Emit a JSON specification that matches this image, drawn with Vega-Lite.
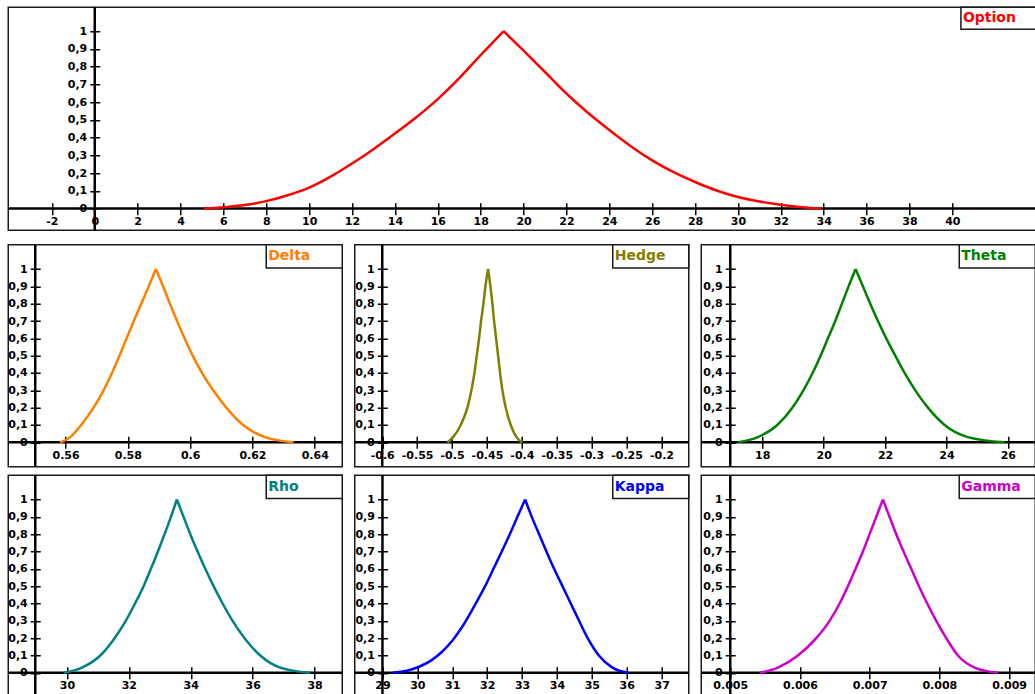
{
"$schema": "https://vega.github.io/schema/vega-lite/v6.json",
"padding": {"left": 6.25, "top": 5.25, "right": 0, "bottom": 0},
"background": "white",
"spacing": 10.5,
"config": {
  "view": {"stroke": "#1a1a1a", "strokeWidth": 1.5},
  "axis": {"labelFont": "DejaVu Sans", "labelFontSize": 11, "labelFontWeight": "bold", "labelColor": "#000", "tickColor": "#000", "tickWidth": 1.5, "grid": false, "domain": false, "labelOverlap": false, "labelFlush": false},
  "line": {"strokeWidth": 2.5, "interpolate": "monotone"},
  "rule": {"color": "#000", "strokeWidth": 2.5, "clip": true},
  "rect": {"fill": "white", "stroke": "#1a1a1a", "strokeWidth": 1.5},
  "text": {"align": "left", "baseline": "middle", "dx": 2, "font": "DejaVu Sans", "fontWeight": "bold", "fontSize": 14}
},
"datasets": {
  "option": [{"x":5.1,"y":0,"s":"L"},{"x":6,"y":0.008,"s":"L"},{"x":7,"y":0.02,"s":"L"},{"x":8,"y":0.042,"s":"L"},{"x":9,"y":0.075,"s":"L"},{"x":10,"y":0.118,"s":"L"},{"x":11,"y":0.18,"s":"L"},{"x":12,"y":0.254,"s":"L"},{"x":13,"y":0.335,"s":"L"},{"x":14,"y":0.423,"s":"L"},{"x":15,"y":0.515,"s":"L"},{"x":16,"y":0.617,"s":"L"},{"x":17,"y":0.735,"s":"L"},{"x":18,"y":0.865,"s":"L"},{"x":19.07,"y":1,"s":"L"},
             {"x":19.07,"y":1,"s":"R"},{"x":20,"y":0.89,"s":"R"},{"x":21,"y":0.77,"s":"R"},{"x":22,"y":0.649,"s":"R"},{"x":23,"y":0.54,"s":"R"},{"x":24,"y":0.443,"s":"R"},{"x":25,"y":0.352,"s":"R"},{"x":26,"y":0.272,"s":"R"},{"x":27,"y":0.205,"s":"R"},{"x":28,"y":0.15,"s":"R"},{"x":29,"y":0.102,"s":"R"},{"x":30,"y":0.065,"s":"R"},{"x":31,"y":0.04,"s":"R"},{"x":32,"y":0.022,"s":"R"},{"x":33,"y":0.008,"s":"R"},{"x":33.9,"y":0,"s":"R"}],
  "delta": [{"x":0.5583,"y":0,"s":"L"},{"x":0.5615,"y":0.03,"s":"L"},{"x":0.565,"y":0.1,"s":"L"},{"x":0.569,"y":0.2,"s":"L"},{"x":0.5722,"y":0.3,"s":"L"},{"x":0.5749,"y":0.4,"s":"L"},{"x":0.5773,"y":0.5,"s":"L"},{"x":0.5796,"y":0.6,"s":"L"},{"x":0.5819,"y":0.7,"s":"L"},{"x":0.5843,"y":0.8,"s":"L"},{"x":0.5867,"y":0.9,"s":"L"},{"x":0.589,"y":1,"s":"L"},
            {"x":0.589,"y":1,"s":"R"},{"x":0.5913,"y":0.9,"s":"R"},{"x":0.5935,"y":0.8,"s":"R"},{"x":0.5958,"y":0.7,"s":"R"},{"x":0.5982,"y":0.6,"s":"R"},{"x":0.6008,"y":0.5,"s":"R"},{"x":0.6038,"y":0.4,"s":"R"},{"x":0.6074,"y":0.3,"s":"R"},{"x":0.6116,"y":0.2,"s":"R"},{"x":0.617,"y":0.1,"s":"R"},{"x":0.624,"y":0.03,"s":"R"},{"x":0.6332,"y":0,"s":"R"}],
  "hedge": [{"x":-0.50664,"y":0,"s":"L"},{"x":-0.49853,"y":0.03,"s":"L"},{"x":-0.48754,"y":0.1,"s":"L"},{"x":-0.47798,"y":0.2,"s":"L"},{"x":-0.47225,"y":0.3,"s":"L"},{"x":-0.46795,"y":0.4,"s":"L"},{"x":-0.46461,"y":0.5,"s":"L"},{"x":-0.46127,"y":0.6,"s":"L"},{"x":-0.45841,"y":0.7,"s":"L"},{"x":-0.45506,"y":0.8,"s":"L"},{"x":-0.4522,"y":0.9,"s":"L"},{"x":-0.44838,"y":1,"s":"L"},
            {"x":-0.44838,"y":1,"s":"R"},{"x":-0.44503,"y":0.9,"s":"R"},{"x":-0.44217,"y":0.8,"s":"R"},{"x":-0.43978,"y":0.7,"s":"R"},{"x":-0.43692,"y":0.6,"s":"R"},{"x":-0.43405,"y":0.5,"s":"R"},{"x":-0.43119,"y":0.4,"s":"R"},{"x":-0.42784,"y":0.3,"s":"R"},{"x":-0.42307,"y":0.2,"s":"R"},{"x":-0.4159,"y":0.1,"s":"R"},{"x":-0.40779,"y":0.03,"s":"R"},{"x":-0.39919,"y":0,"s":"R"}],
  "theta": [{"x":17.207,"y":0,"s":"L"},{"x":17.859,"y":0.03,"s":"L"},{"x":18.489,"y":0.1,"s":"L"},{"x":18.98,"y":0.2,"s":"L"},{"x":19.34,"y":0.3,"s":"L"},{"x":19.64,"y":0.4,"s":"L"},{"x":19.9,"y":0.5,"s":"L"},{"x":20.139,"y":0.6,"s":"L"},{"x":20.378,"y":0.7,"s":"L"},{"x":20.595,"y":0.8,"s":"L"},{"x":20.812,"y":0.9,"s":"L"},{"x":21.04,"y":1,"s":"L"},
            {"x":21.04,"y":1,"s":"R"},{"x":21.279,"y":0.9,"s":"R"},{"x":21.518,"y":0.8,"s":"R"},{"x":21.768,"y":0.7,"s":"R"},{"x":22.039,"y":0.6,"s":"R"},{"x":22.332,"y":0.5,"s":"R"},{"x":22.636,"y":0.4,"s":"R"},{"x":22.984,"y":0.3,"s":"R"},{"x":23.396,"y":0.2,"s":"R"},{"x":23.939,"y":0.1,"s":"R"},{"x":24.699,"y":0.03,"s":"R"},{"x":25.894,"y":0,"s":"R"}],
  "rho": [{"x":29.891,"y":0,"s":"L"},{"x":30.484,"y":0.03,"s":"L"},{"x":31.076,"y":0.1,"s":"L"},{"x":31.54,"y":0.2,"s":"L"},{"x":31.9,"y":0.3,"s":"L"},{"x":32.2,"y":0.4,"s":"L"},{"x":32.476,"y":0.5,"s":"L"},{"x":32.713,"y":0.6,"s":"L"},{"x":32.939,"y":0.7,"s":"L"},{"x":33.154,"y":0.8,"s":"L"},{"x":33.359,"y":0.9,"s":"L"},{"x":33.553,"y":1,"s":"L"},
          {"x":33.553,"y":1,"s":"R"},{"x":33.768,"y":0.9,"s":"R"},{"x":33.984,"y":0.8,"s":"R"},{"x":34.221,"y":0.7,"s":"R"},{"x":34.469,"y":0.6,"s":"R"},{"x":34.738,"y":0.5,"s":"R"},{"x":35.029,"y":0.4,"s":"R"},{"x":35.352,"y":0.3,"s":"R"},{"x":35.739,"y":0.2,"s":"R"},{"x":36.246,"y":0.1,"s":"R"},{"x":36.892,"y":0.03,"s":"R"},{"x":37.861,"y":0,"s":"R"}],
  "kappa": [{"x":29.286,"y":0,"s":"L"},{"x":29.7,"y":0.012,"s":"L"},{"x":30.05,"y":0.035,"s":"L"},{"x":30.4,"y":0.072,"s":"L"},{"x":30.7,"y":0.12,"s":"L"},{"x":31.0,"y":0.185,"s":"L"},{"x":31.3,"y":0.27,"s":"L"},{"x":31.673,"y":0.4,"s":"L"},{"x":31.941,"y":0.5,"s":"L"},{"x":32.18,"y":0.6,"s":"L"},{"x":32.418,"y":0.7,"s":"L"},{"x":32.648,"y":0.8,"s":"L"},{"x":32.867,"y":0.9,"s":"L"},{"x":33.087,"y":1,"s":"L"},
            {"x":33.087,"y":1,"s":"R"},{"x":33.278,"y":0.9,"s":"R"},{"x":33.488,"y":0.8,"s":"R"},{"x":33.698,"y":0.7,"s":"R"},{"x":33.918,"y":0.6,"s":"R"},{"x":34.157,"y":0.5,"s":"R"},{"x":34.395,"y":0.4,"s":"R"},{"x":34.634,"y":0.3,"s":"R"},{"x":34.88,"y":0.2,"s":"R"},{"x":35.2,"y":0.1,"s":"R"},{"x":35.589,"y":0.03,"s":"R"},{"x":36.048,"y":0,"s":"R"}],
  "gamma": [{"x":0.0054208,"y":0,"s":"L"},{"x":0.0056839,"y":0.03,"s":"L"},{"x":0.0059709,"y":0.1,"s":"L"},{"x":0.0062339,"y":0.2,"s":"L"},{"x":0.0064251,"y":0.3,"s":"L"},{"x":0.0065686,"y":0.4,"s":"L"},{"x":0.0066882,"y":0.5,"s":"L"},{"x":0.0067982,"y":0.6,"s":"L"},{"x":0.0069034,"y":0.7,"s":"L"},{"x":0.006999,"y":0.8,"s":"L"},{"x":0.0070947,"y":0.9,"s":"L"},{"x":0.0071904,"y":1,"s":"L"},
            {"x":0.0071904,"y":1,"s":"R"},{"x":0.007286,"y":0.9,"s":"R"},{"x":0.0073816,"y":0.8,"s":"R"},{"x":0.0074868,"y":0.7,"s":"R"},{"x":0.0075968,"y":0.6,"s":"R"},{"x":0.0077069,"y":0.5,"s":"R"},{"x":0.0078264,"y":0.4,"s":"R"},{"x":0.0079555,"y":0.3,"s":"R"},{"x":0.008099,"y":0.2,"s":"R"},{"x":0.0082664,"y":0.1,"s":"R"},{"x":0.0085055,"y":0.03,"s":"R"},{"x":0.0088403,"y":0,"s":"R"}]
},
"vconcat": [
{
  "width": 1030, "height": 223,
  "layer": [
    {"data": {"values": [{}]}, "mark": "rect",
     "encoding": {
       "x": {"datum": 40.4, "type": "quantitative", "scale": {"domain": [-4.0345, 44.007], "zero": false, "nice": false}, "axis": {"title": null, "orient": "bottom", "offset": -27.6, "tickSize": 12, "labelPadding": 1, "values": [-2,0,2,4,6,8,10,12,14,16,18,20,22,24,26,28,30,32,34,36,38,40], "labelExpr": "'' + datum.value"}},
       "x2": {"datum": 44.007},
       "y": {"datum": 1.135, "type": "quantitative", "scale": {"domain": [-0.122, 1.135], "zero": false, "nice": false}, "axis": {"title": null, "orient": "left", "offset": -91.5, "tickSize": 10, "labelPadding": 3, "values": [0,0.1,0.2,0.3,0.4,0.5,0.6,0.7,0.8,0.9,1], "labelExpr": "replace('' + datum.value, '.', ',')"}},
       "y2": {"datum": 1.011}}},
    {"data": {"values": [{}]}, "mark": {"type": "text", "text": "Option", "color": "#ff0000"},
     "encoding": {
       "x": {"datum": 40.4, "type": "quantitative", "scale": {"domain": [-4.0345, 44.007], "zero": false, "nice": false}, "axis": {"title": null, "orient": "bottom", "offset": -27.6, "tickSize": 12, "labelPadding": 1, "values": [-2,0,2,4,6,8,10,12,14,16,18,20,22,24,26,28,30,32,34,36,38,40], "labelExpr": "'' + datum.value"}},
       "y": {"datum": 1.073, "type": "quantitative", "scale": {"domain": [-0.122, 1.135], "zero": false, "nice": false}, "axis": {"title": null, "orient": "left", "offset": -91.5, "tickSize": 10, "labelPadding": 3, "values": [0,0.1,0.2,0.3,0.4,0.5,0.6,0.7,0.8,0.9,1], "labelExpr": "replace('' + datum.value, '.', ',')"}}}},
    {"data": {"values": [{}]}, "mark": "rule",
     "encoding": {
       "y": {"datum": 0, "type": "quantitative", "scale": {"domain": [-0.122, 1.135], "zero": false, "nice": false}, "axis": {"title": null, "orient": "left", "offset": -91.5, "tickSize": 10, "labelPadding": 3, "values": [0,0.1,0.2,0.3,0.4,0.5,0.6,0.7,0.8,0.9,1], "labelExpr": "replace('' + datum.value, '.', ',')"}}}},
    {"data": {"values": [{}]}, "mark": "rule",
     "encoding": {
       "x": {"datum": 0, "type": "quantitative", "scale": {"domain": [-4.0345, 44.007], "zero": false, "nice": false}, "axis": {"title": null, "orient": "bottom", "offset": -27.6, "tickSize": 12, "labelPadding": 1, "values": [-2,0,2,4,6,8,10,12,14,16,18,20,22,24,26,28,30,32,34,36,38,40], "labelExpr": "'' + datum.value"}}}},
    {"data": {"name": "option"}, "mark": {"type": "line", "color": "#ff0000"},
     "encoding": {
       "detail": {"field": "s"},
       "x": {"field": "x", "type": "quantitative", "scale": {"domain": [-4.0345, 44.007], "zero": false, "nice": false}, "axis": {"title": null, "orient": "bottom", "offset": -27.6, "tickSize": 12, "labelPadding": 1, "values": [-2,0,2,4,6,8,10,12,14,16,18,20,22,24,26,28,30,32,34,36,38,40], "labelExpr": "'' + datum.value"}},
       "y": {"field": "y", "type": "quantitative", "scale": {"domain": [-0.122, 1.135], "zero": false, "nice": false}, "axis": {"title": null, "orient": "left", "offset": -91.5, "tickSize": 10, "labelPadding": 3, "values": [0,0.1,0.2,0.3,0.4,0.5,0.6,0.7,0.8,0.9,1], "labelExpr": "replace('' + datum.value, '.', ',')"}}}}
  ]
},
{
  "vconcat": [
  {
    "hconcat": [
    {
      "width": 334, "height": 222,
      "layer": [
        {"data": {"values": [{}]}, "mark": "rect",
         "encoding": {
           "x": {"datum": 0.62443, "type": "quantitative", "scale": {"domain": [0.54161, 0.64883], "zero": false, "nice": false}, "axis": {"title": null, "orient": "bottom", "offset": -30.4, "tickSize": 12, "labelPadding": 1, "values": [0.56,0.58,0.6,0.62,0.64], "labelExpr": "'' + datum.value"}},
           "x2": {"datum": 0.64883},
           "y": {"datum": 1.14, "type": "quantitative", "scale": {"domain": [-0.141, 1.14], "zero": false, "nice": false}, "axis": {"title": null, "orient": "left", "offset": -32, "tickSize": 10, "labelPadding": 3, "values": [0,0.1,0.2,0.3,0.4,0.5,0.6,0.7,0.8,0.9,1], "labelExpr": "replace('' + datum.value, '.', ',')"}},
           "y2": {"datum": 1.0056}}},
        {"data": {"values": [{}]}, "mark": {"type": "text", "text": "Delta", "color": "#ff8000"},
         "encoding": {
           "x": {"datum": 0.62443, "type": "quantitative", "scale": {"domain": [0.54161, 0.64883], "zero": false, "nice": false}, "axis": {"title": null, "orient": "bottom", "offset": -30.4, "tickSize": 12, "labelPadding": 1, "values": [0.56,0.58,0.6,0.62,0.64], "labelExpr": "'' + datum.value"}},
           "y": {"datum": 1.0728, "type": "quantitative", "scale": {"domain": [-0.141, 1.14], "zero": false, "nice": false}, "axis": {"title": null, "orient": "left", "offset": -32, "tickSize": 10, "labelPadding": 3, "values": [0,0.1,0.2,0.3,0.4,0.5,0.6,0.7,0.8,0.9,1], "labelExpr": "replace('' + datum.value, '.', ',')"}}}},
        {"data": {"values": [{}]}, "mark": "rule",
         "encoding": {
           "y": {"datum": 0, "type": "quantitative", "scale": {"domain": [-0.141, 1.14], "zero": false, "nice": false}, "axis": {"title": null, "orient": "left", "offset": -32, "tickSize": 10, "labelPadding": 3, "values": [0,0.1,0.2,0.3,0.4,0.5,0.6,0.7,0.8,0.9,1], "labelExpr": "replace('' + datum.value, '.', ',')"}}}},
        {"data": {"values": [{}]}, "mark": "rule",
         "encoding": {
           "x": {"datum": 0.55027, "type": "quantitative", "scale": {"domain": [0.54161, 0.64883], "zero": false, "nice": false}, "axis": {"title": null, "orient": "bottom", "offset": -30.4, "tickSize": 12, "labelPadding": 1, "values": [0.56,0.58,0.6,0.62,0.64], "labelExpr": "'' + datum.value"}}}},
        {"data": {"name": "delta"}, "mark": {"type": "line", "color": "#ff8000"},
         "encoding": {
           "detail": {"field": "s"},
           "x": {"field": "x", "type": "quantitative", "scale": {"domain": [0.54161, 0.64883], "zero": false, "nice": false}, "axis": {"title": null, "orient": "bottom", "offset": -30.4, "tickSize": 12, "labelPadding": 1, "values": [0.56,0.58,0.6,0.62,0.64], "labelExpr": "'' + datum.value"}},
           "y": {"field": "y", "type": "quantitative", "scale": {"domain": [-0.141, 1.14], "zero": false, "nice": false}, "axis": {"title": null, "orient": "left", "offset": -32, "tickSize": 10, "labelPadding": 3, "values": [0,0.1,0.2,0.3,0.4,0.5,0.6,0.7,0.8,0.9,1], "labelExpr": "replace('' + datum.value, '.', ',')"}}}}
      ]
    },
    {
      "width": 334, "height": 222,
      "layer": [
        {"data": {"values": [{}]}, "mark": "rect",
         "encoding": {
           "x": {"datum": -0.26977, "type": "quantitative", "scale": {"domain": [-0.6394, -0.16089], "zero": false, "nice": false}, "axis": {"title": null, "orient": "bottom", "offset": -30.4, "tickSize": 12, "labelPadding": 1, "values": [-0.6,-0.55,-0.5,-0.45,-0.4,-0.35,-0.3,-0.25,-0.2], "labelExpr": "'' + datum.value"}},
           "x2": {"datum": -0.16089},
           "y": {"datum": 1.14, "type": "quantitative", "scale": {"domain": [-0.141, 1.14], "zero": false, "nice": false}, "axis": {"title": null, "orient": "left", "offset": -32.5, "tickSize": 10, "labelPadding": 3, "values": [0,0.1,0.2,0.3,0.4,0.5,0.6,0.7,0.8,0.9,1], "labelExpr": "replace('' + datum.value, '.', ',')"}},
           "y2": {"datum": 1.0056}}},
        {"data": {"values": [{}]}, "mark": {"type": "text", "text": "Hedge", "color": "#808000"},
         "encoding": {
           "x": {"datum": -0.26977, "type": "quantitative", "scale": {"domain": [-0.6394, -0.16089], "zero": false, "nice": false}, "axis": {"title": null, "orient": "bottom", "offset": -30.4, "tickSize": 12, "labelPadding": 1, "values": [-0.6,-0.55,-0.5,-0.45,-0.4,-0.35,-0.3,-0.25,-0.2], "labelExpr": "'' + datum.value"}},
           "y": {"datum": 1.0728, "type": "quantitative", "scale": {"domain": [-0.141, 1.14], "zero": false, "nice": false}, "axis": {"title": null, "orient": "left", "offset": -32.5, "tickSize": 10, "labelPadding": 3, "values": [0,0.1,0.2,0.3,0.4,0.5,0.6,0.7,0.8,0.9,1], "labelExpr": "replace('' + datum.value, '.', ',')"}}}},
        {"data": {"values": [{}]}, "mark": "rule",
         "encoding": {
           "y": {"datum": 0, "type": "quantitative", "scale": {"domain": [-0.141, 1.14], "zero": false, "nice": false}, "axis": {"title": null, "orient": "left", "offset": -32.5, "tickSize": 10, "labelPadding": 3, "values": [0,0.1,0.2,0.3,0.4,0.5,0.6,0.7,0.8,0.9,1], "labelExpr": "replace('' + datum.value, '.', ',')"}}}},
        {"data": {"values": [{}]}, "mark": "rule",
         "encoding": {
           "x": {"datum": -0.6, "type": "quantitative", "scale": {"domain": [-0.6394, -0.16089], "zero": false, "nice": false}, "axis": {"title": null, "orient": "bottom", "offset": -30.4, "tickSize": 12, "labelPadding": 1, "values": [-0.6,-0.55,-0.5,-0.45,-0.4,-0.35,-0.3,-0.25,-0.2], "labelExpr": "'' + datum.value"}}}},
        {"data": {"name": "hedge"}, "mark": {"type": "line", "color": "#808000"},
         "encoding": {
           "detail": {"field": "s"},
           "x": {"field": "x", "type": "quantitative", "scale": {"domain": [-0.6394, -0.16089], "zero": false, "nice": false}, "axis": {"title": null, "orient": "bottom", "offset": -30.4, "tickSize": 12, "labelPadding": 1, "values": [-0.6,-0.55,-0.5,-0.45,-0.4,-0.35,-0.3,-0.25,-0.2], "labelExpr": "'' + datum.value"}},
           "y": {"field": "y", "type": "quantitative", "scale": {"domain": [-0.141, 1.14], "zero": false, "nice": false}, "axis": {"title": null, "orient": "left", "offset": -32.5, "tickSize": 10, "labelPadding": 3, "values": [0,0.1,0.2,0.3,0.4,0.5,0.6,0.7,0.8,0.9,1], "labelExpr": "replace('' + datum.value, '.', ',')"}}}}
      ]
    },
    {
      "width": 334, "height": 222,
      "layer": [
        {"data": {"values": [{}]}, "mark": "rect",
         "encoding": {
           "x": {"datum": 24.417, "type": "quantitative", "scale": {"domain": [16.013, 26.892], "zero": false, "nice": false}, "axis": {"title": null, "orient": "bottom", "offset": -30.4, "tickSize": 12, "labelPadding": 1, "values": [18,20,22,24,26], "labelExpr": "'' + datum.value"}},
           "x2": {"datum": 26.892},
           "y": {"datum": 1.14, "type": "quantitative", "scale": {"domain": [-0.141, 1.14], "zero": false, "nice": false}, "axis": {"title": null, "orient": "left", "offset": -34, "tickSize": 10, "labelPadding": 3, "values": [0,0.1,0.2,0.3,0.4,0.5,0.6,0.7,0.8,0.9,1], "labelExpr": "replace('' + datum.value, '.', ',')"}},
           "y2": {"datum": 1.0056}}},
        {"data": {"values": [{}]}, "mark": {"type": "text", "text": "Theta", "color": "#008000"},
         "encoding": {
           "x": {"datum": 24.417, "type": "quantitative", "scale": {"domain": [16.013, 26.892], "zero": false, "nice": false}, "axis": {"title": null, "orient": "bottom", "offset": -30.4, "tickSize": 12, "labelPadding": 1, "values": [18,20,22,24,26], "labelExpr": "'' + datum.value"}},
           "y": {"datum": 1.0728, "type": "quantitative", "scale": {"domain": [-0.141, 1.14], "zero": false, "nice": false}, "axis": {"title": null, "orient": "left", "offset": -34, "tickSize": 10, "labelPadding": 3, "values": [0,0.1,0.2,0.3,0.4,0.5,0.6,0.7,0.8,0.9,1], "labelExpr": "replace('' + datum.value, '.', ',')"}}}},
        {"data": {"values": [{}]}, "mark": "rule",
         "encoding": {
           "y": {"datum": 0, "type": "quantitative", "scale": {"domain": [-0.141, 1.14], "zero": false, "nice": false}, "axis": {"title": null, "orient": "left", "offset": -34, "tickSize": 10, "labelPadding": 3, "values": [0,0.1,0.2,0.3,0.4,0.5,0.6,0.7,0.8,0.9,1], "labelExpr": "replace('' + datum.value, '.', ',')"}}}},
        {"data": {"values": [{}]}, "mark": "rule",
         "encoding": {
           "x": {"datum": 16.958, "type": "quantitative", "scale": {"domain": [16.013, 26.892], "zero": false, "nice": false}, "axis": {"title": null, "orient": "bottom", "offset": -30.4, "tickSize": 12, "labelPadding": 1, "values": [18,20,22,24,26], "labelExpr": "'' + datum.value"}}}},
        {"data": {"name": "theta"}, "mark": {"type": "line", "color": "#008000"},
         "encoding": {
           "detail": {"field": "s"},
           "x": {"field": "x", "type": "quantitative", "scale": {"domain": [16.013, 26.892], "zero": false, "nice": false}, "axis": {"title": null, "orient": "bottom", "offset": -30.4, "tickSize": 12, "labelPadding": 1, "values": [18,20,22,24,26], "labelExpr": "'' + datum.value"}},
           "y": {"field": "y", "type": "quantitative", "scale": {"domain": [-0.141, 1.14], "zero": false, "nice": false}, "axis": {"title": null, "orient": "left", "offset": -34, "tickSize": 10, "labelPadding": 3, "values": [0,0.1,0.2,0.3,0.4,0.5,0.6,0.7,0.8,0.9,1], "labelExpr": "replace('' + datum.value, '.', ',')"}}}}
      ]
    }
    ],
    "spacing": 8.5
  },
  {
    "hconcat": [
    {
      "width": 334, "height": 222,
      "layer": [
        {"data": {"values": [{}]}, "mark": "rect",
         "encoding": {
           "x": {"datum": 36.439, "type": "quantitative", "scale": {"domain": [28.103, 38.895], "zero": false, "nice": false}, "axis": {"title": null, "orient": "bottom", "offset": -30.4, "tickSize": 12, "labelPadding": 1, "values": [30,32,34,36,38], "labelExpr": "'' + datum.value"}},
           "x2": {"datum": 38.895},
           "y": {"datum": 1.14, "type": "quantitative", "scale": {"domain": [-0.141, 1.14], "zero": false, "nice": false}, "axis": {"title": null, "orient": "left", "offset": -32, "tickSize": 10, "labelPadding": 3, "values": [0,0.1,0.2,0.3,0.4,0.5,0.6,0.7,0.8,0.9,1], "labelExpr": "replace('' + datum.value, '.', ',')"}},
           "y2": {"datum": 1.0056}}},
        {"data": {"values": [{}]}, "mark": {"type": "text", "text": "Rho", "color": "#008080"},
         "encoding": {
           "x": {"datum": 36.439, "type": "quantitative", "scale": {"domain": [28.103, 38.895], "zero": false, "nice": false}, "axis": {"title": null, "orient": "bottom", "offset": -30.4, "tickSize": 12, "labelPadding": 1, "values": [30,32,34,36,38], "labelExpr": "'' + datum.value"}},
           "y": {"datum": 1.0728, "type": "quantitative", "scale": {"domain": [-0.141, 1.14], "zero": false, "nice": false}, "axis": {"title": null, "orient": "left", "offset": -32, "tickSize": 10, "labelPadding": 3, "values": [0,0.1,0.2,0.3,0.4,0.5,0.6,0.7,0.8,0.9,1], "labelExpr": "replace('' + datum.value, '.', ',')"}}}},
        {"data": {"values": [{}]}, "mark": "rule",
         "encoding": {
           "y": {"datum": 0, "type": "quantitative", "scale": {"domain": [-0.141, 1.14], "zero": false, "nice": false}, "axis": {"title": null, "orient": "left", "offset": -32, "tickSize": 10, "labelPadding": 3, "values": [0,0.1,0.2,0.3,0.4,0.5,0.6,0.7,0.8,0.9,1], "labelExpr": "replace('' + datum.value, '.', ',')"}}}},
        {"data": {"values": [{}]}, "mark": "rule",
         "encoding": {
           "x": {"datum": 28.976, "type": "quantitative", "scale": {"domain": [28.103, 38.895], "zero": false, "nice": false}, "axis": {"title": null, "orient": "bottom", "offset": -30.4, "tickSize": 12, "labelPadding": 1, "values": [30,32,34,36,38], "labelExpr": "'' + datum.value"}}}},
        {"data": {"name": "rho"}, "mark": {"type": "line", "color": "#008080"},
         "encoding": {
           "detail": {"field": "s"},
           "x": {"field": "x", "type": "quantitative", "scale": {"domain": [28.103, 38.895], "zero": false, "nice": false}, "axis": {"title": null, "orient": "bottom", "offset": -30.4, "tickSize": 12, "labelPadding": 1, "values": [30,32,34,36,38], "labelExpr": "'' + datum.value"}},
           "y": {"field": "y", "type": "quantitative", "scale": {"domain": [-0.141, 1.14], "zero": false, "nice": false}, "axis": {"title": null, "orient": "left", "offset": -32, "tickSize": 10, "labelPadding": 3, "values": [0,0.1,0.2,0.3,0.4,0.5,0.6,0.7,0.8,0.9,1], "labelExpr": "replace('' + datum.value, '.', ',')"}}}}
      ]
    },
    {
      "width": 334, "height": 222,
      "layer": [
        {"data": {"values": [{}]}, "mark": "rect",
         "encoding": {
           "x": {"datum": 35.599, "type": "quantitative", "scale": {"domain": [28.206, 37.776], "zero": false, "nice": false}, "axis": {"title": null, "orient": "bottom", "offset": -30.4, "tickSize": 12, "labelPadding": 1, "values": [29,30,31,32,33,34,35,36,37], "labelExpr": "'' + datum.value"}},
           "x2": {"datum": 37.776},
           "y": {"datum": 1.14, "type": "quantitative", "scale": {"domain": [-0.141, 1.14], "zero": false, "nice": false}, "axis": {"title": null, "orient": "left", "offset": -32.7, "tickSize": 10, "labelPadding": 3, "values": [0,0.1,0.2,0.3,0.4,0.5,0.6,0.7,0.8,0.9,1], "labelExpr": "replace('' + datum.value, '.', ',')"}},
           "y2": {"datum": 1.0056}}},
        {"data": {"values": [{}]}, "mark": {"type": "text", "text": "Kappa", "color": "#0000ff"},
         "encoding": {
           "x": {"datum": 35.599, "type": "quantitative", "scale": {"domain": [28.206, 37.776], "zero": false, "nice": false}, "axis": {"title": null, "orient": "bottom", "offset": -30.4, "tickSize": 12, "labelPadding": 1, "values": [29,30,31,32,33,34,35,36,37], "labelExpr": "'' + datum.value"}},
           "y": {"datum": 1.0728, "type": "quantitative", "scale": {"domain": [-0.141, 1.14], "zero": false, "nice": false}, "axis": {"title": null, "orient": "left", "offset": -32.7, "tickSize": 10, "labelPadding": 3, "values": [0,0.1,0.2,0.3,0.4,0.5,0.6,0.7,0.8,0.9,1], "labelExpr": "replace('' + datum.value, '.', ',')"}}}},
        {"data": {"values": [{}]}, "mark": "rule",
         "encoding": {
           "y": {"datum": 0, "type": "quantitative", "scale": {"domain": [-0.141, 1.14], "zero": false, "nice": false}, "axis": {"title": null, "orient": "left", "offset": -32.7, "tickSize": 10, "labelPadding": 3, "values": [0,0.1,0.2,0.3,0.4,0.5,0.6,0.7,0.8,0.9,1], "labelExpr": "replace('' + datum.value, '.', ',')"}}}},
        {"data": {"values": [{}]}, "mark": "rule",
         "encoding": {
           "x": {"datum": 29, "type": "quantitative", "scale": {"domain": [28.206, 37.776], "zero": false, "nice": false}, "axis": {"title": null, "orient": "bottom", "offset": -30.4, "tickSize": 12, "labelPadding": 1, "values": [29,30,31,32,33,34,35,36,37], "labelExpr": "'' + datum.value"}}}},
        {"data": {"name": "kappa"}, "mark": {"type": "line", "color": "#0000ff"},
         "encoding": {
           "detail": {"field": "s"},
           "x": {"field": "x", "type": "quantitative", "scale": {"domain": [28.206, 37.776], "zero": false, "nice": false}, "axis": {"title": null, "orient": "bottom", "offset": -30.4, "tickSize": 12, "labelPadding": 1, "values": [29,30,31,32,33,34,35,36,37], "labelExpr": "'' + datum.value"}},
           "y": {"field": "y", "type": "quantitative", "scale": {"domain": [-0.141, 1.14], "zero": false, "nice": false}, "axis": {"title": null, "orient": "left", "offset": -32.7, "tickSize": 10, "labelPadding": 3, "values": [0,0.1,0.2,0.3,0.4,0.5,0.6,0.7,0.8,0.9,1], "labelExpr": "replace('' + datum.value, '.', ',')"}}}}
      ]
    },
    {
      "width": 334, "height": 222,
      "layer": [
        {"data": {"values": [{}]}, "mark": "rect",
         "encoding": {
           "x": {"datum": 0.0082855, "type": "quantitative", "scale": {"domain": [0.0045839, 0.0093759], "zero": false, "nice": false}, "axis": {"title": null, "orient": "bottom", "offset": -30.4, "tickSize": 12, "labelPadding": 1, "values": [0.005,0.006,0.007,0.008,0.009], "labelExpr": "'' + datum.value"}},
           "x2": {"datum": 0.0093759},
           "y": {"datum": 1.14, "type": "quantitative", "scale": {"domain": [-0.141, 1.14], "zero": false, "nice": false}, "axis": {"title": null, "orient": "left", "offset": -34, "tickSize": 10, "labelPadding": 3, "values": [0,0.1,0.2,0.3,0.4,0.5,0.6,0.7,0.8,0.9,1], "labelExpr": "replace('' + datum.value, '.', ',')"}},
           "y2": {"datum": 1.0056}}},
        {"data": {"values": [{}]}, "mark": {"type": "text", "text": "Gamma", "color": "#cc00cc"},
         "encoding": {
           "x": {"datum": 0.0082855, "type": "quantitative", "scale": {"domain": [0.0045839, 0.0093759], "zero": false, "nice": false}, "axis": {"title": null, "orient": "bottom", "offset": -30.4, "tickSize": 12, "labelPadding": 1, "values": [0.005,0.006,0.007,0.008,0.009], "labelExpr": "'' + datum.value"}},
           "y": {"datum": 1.0728, "type": "quantitative", "scale": {"domain": [-0.141, 1.14], "zero": false, "nice": false}, "axis": {"title": null, "orient": "left", "offset": -34, "tickSize": 10, "labelPadding": 3, "values": [0,0.1,0.2,0.3,0.4,0.5,0.6,0.7,0.8,0.9,1], "labelExpr": "replace('' + datum.value, '.', ',')"}}}},
        {"data": {"values": [{}]}, "mark": "rule",
         "encoding": {
           "y": {"datum": 0, "type": "quantitative", "scale": {"domain": [-0.141, 1.14], "zero": false, "nice": false}, "axis": {"title": null, "orient": "left", "offset": -34, "tickSize": 10, "labelPadding": 3, "values": [0,0.1,0.2,0.3,0.4,0.5,0.6,0.7,0.8,0.9,1], "labelExpr": "replace('' + datum.value, '.', ',')"}}}},
        {"data": {"values": [{}]}, "mark": "rule",
         "encoding": {
           "x": {"datum": 0.005, "type": "quantitative", "scale": {"domain": [0.0045839, 0.0093759], "zero": false, "nice": false}, "axis": {"title": null, "orient": "bottom", "offset": -30.4, "tickSize": 12, "labelPadding": 1, "values": [0.005,0.006,0.007,0.008,0.009], "labelExpr": "'' + datum.value"}}}},
        {"data": {"name": "gamma"}, "mark": {"type": "line", "color": "#cc00cc"},
         "encoding": {
           "detail": {"field": "s"},
           "x": {"field": "x", "type": "quantitative", "scale": {"domain": [0.0045839, 0.0093759], "zero": false, "nice": false}, "axis": {"title": null, "orient": "bottom", "offset": -30.4, "tickSize": 12, "labelPadding": 1, "values": [0.005,0.006,0.007,0.008,0.009], "labelExpr": "'' + datum.value"}},
           "y": {"field": "y", "type": "quantitative", "scale": {"domain": [-0.141, 1.14], "zero": false, "nice": false}, "axis": {"title": null, "orient": "left", "offset": -34, "tickSize": 10, "labelPadding": 3, "values": [0,0.1,0.2,0.3,0.4,0.5,0.6,0.7,0.8,0.9,1], "labelExpr": "replace('' + datum.value, '.', ',')"}}}}
      ]
    }
    ],
    "spacing": 8.5
  }
  ],
  "spacing": 4.5
}
]
}
